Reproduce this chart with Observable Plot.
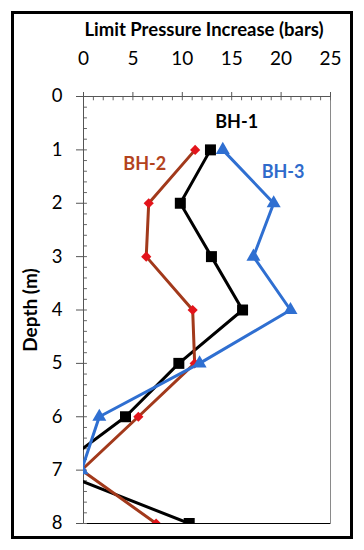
<!DOCTYPE html>
<html>
<head>
<meta charset="utf-8">
<script src="https://cdn.jsdelivr.net/npm/d3@7"></script>
<script src="https://cdn.jsdelivr.net/npm/@observablehq/plot@0.6"></script>
<style>
  html, body { margin: 0; padding: 0; background: #fff; }
  #wrap { position: relative; width: 364px; height: 550px; }
  #border { position: absolute; left: 11px; top: 11px; width: 336px; height: 522px; border: 3px solid #000; pointer-events: none; }
  svg { position: absolute; left: 0; top: 0; }
</style>
</head>
<body>
<div id="wrap"><div id="border"></div></div>
<script>
// Data
const depths = [1, 2, 3, 4, 5, 6, 7, 8];
const bh1 = [12.85, 9.8, 12.95, 16.1, 9.65, 4.25, -3.0, 10.7];
const bh2 = [11.3, 6.6, 6.35, 11.05, 11.25, 5.55, -0.2, 7.35];
const bh3 = [14.1, 19.25, 17.2, 20.95, 11.75, 1.6, -0.2, null];
const seriesNames = ["BH-1", "BH-2", "BH-3"];
const xTicks = [0, 5, 10, 15, 20, 25];
const yTicks = [0, 1, 2, 3, 4, 5, 6, 7, 8];
const xMinor = d3.range(0, 25.001, 1);
const yMinor = d3.range(0, 8.001, 0.2);

const seriesValues = [bh1, bh2, bh3];
const rows = seriesNames.map((name, i) =>
  depths.map((d, j) => ({series: name, depth: d, value: seriesValues[i][j]}))
         .filter(r => r.value != null)
);

const lineColor = {"BH-1": "#000000", "BH-2": "#a2391b", "BH-3": "#2f6fd1"};
const dotColor = {"BH-1": "#000000", "BH-2": "#e3141b", "BH-3": "#2f6fd1"};
const symbols = {"BH-1": "square", "BH-2": "diamond2", "BH-3": "triangle"};
const radii = {"BH-1": 6.2, "BH-2": 4.6, "BH-3": 5.2};

const seriesMarks = rows.flatMap(data => {
  const s = data[0].series;
  return [
    Plot.line(data, {x: "value", y: "depth", stroke: lineColor[s], strokeWidth: 3, clip: true}),
    Plot.dot(data, {x: "value", y: "depth", symbol: symbols[s], r: radii[s], fill: dotColor[s], stroke: "none", clip: true})
  ];
});

const chart = Plot.plot({
  width: 364,
  height: 550,
  marginLeft: 83,
  marginRight: 34,
  marginTop: 96,
  marginBottom: 27,
  style: {fontFamily: "Lato, 'Open Sans', sans-serif", background: "transparent", color: "#000"},
  x: {domain: [0, 25]},
  y: {domain: [0, 8], reverse: true},
  marks: [
    Plot.frame({stroke: "#8a8a8a", strokeWidth: 1}),
    Plot.ruleY([8], {stroke: "#000", strokeWidth: 1}),
    Plot.ruleX(xMinor, {y1: 0, y2: 0.08, stroke: "#666"}),
    Plot.ruleY(yMinor, {x1: 0, x2: 0.4, stroke: "#666"}),
    Plot.axisX({anchor: "top", ticks: xTicks, tickSize: 5, tickPadding: 27, fontSize: 19, label: null, stroke: "#555"}),
    Plot.axisY({anchor: "left", ticks: yTicks, tickSize: 7, tickPadding: 14, fontSize: 18.5, label: null, stroke: "#555"}),
    Plot.ruleX([0], {stroke: "#555"}),
    Plot.ruleY([0], {stroke: "#555"}),
    ...seriesMarks,
    Plot.text(["BH-1"], {x: () => 15.5, y: () => 0.48, fontSize: 18, fontWeight: "bold", fill: "#000"}),
    Plot.text(["BH-2"], {x: () => 6.2, y: () => 1.26, fontSize: 18, fontWeight: "bold", fill: "#b3431d"}),
    Plot.text(["BH-3"], {x: () => 20.2, y: () => 1.41, fontSize: 18, fontWeight: "bold", fill: "#2f6bcb"}),
    Plot.text(["Limit Pressure Increase (bars)"], {frameAnchor: "top", dx: -3, dy: -66, lineAnchor: "middle", fontSize: 18.5, fontWeight: "bold", fill: "#000", letterSpacing: "-0.5px"}),
    Plot.text(["Depth (m)"], {frameAnchor: "left", dx: -53, rotate: -90, textAnchor: "middle", lineAnchor: "middle", fontSize: 19, fontWeight: "bold", fill: "#000", letterSpacing: "1px"})
  ]
});
document.getElementById("wrap").appendChild(chart);
</script>
</body>
</html>
